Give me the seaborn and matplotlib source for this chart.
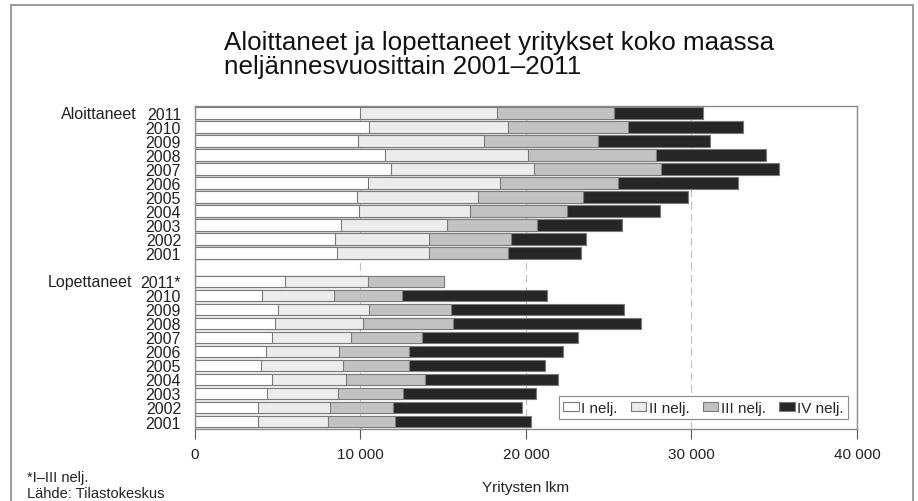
import seaborn as sns
import matplotlib.pyplot as plt
from matplotlib.patches import Patch, Rectangle
from matplotlib.ticker import FuncFormatter
import pandas as pd

# Quarterly counts, rows listed top to bottom (2011 -> 2001)
years_start = ["2011", "2010", "2009", "2008", "2007", "2006",
               "2005", "2004", "2003", "2002", "2001"]
start_q1 = [10000, 10540, 9880, 11500, 11850, 10460, 9760, 9920, 8840, 8450, 8600]
start_q2 = [8270, 8390, 7570, 8640, 8610, 7970, 7370, 6710, 6360, 5710, 5560]
start_q3 = [7070, 7210, 6910, 7690, 7670, 7130, 6340, 5860, 5440, 4950, 4730]
start_q4 = [5340, 6950, 6780, 6690, 7150, 7270, 6310, 5580, 5180, 4500, 4420]

years_end = ["2011*", "2010", "2009", "2008", "2007", "2006",
             "2005", "2004", "2003", "2002", "2001"]
end_q1 = [5440, 4040, 5040, 4860, 4680, 4320, 3980, 4680, 4360, 3820, 3830]
end_q2 = [5020, 4380, 5500, 5320, 4720, 4410, 4980, 4420, 4280, 4330, 4220]
end_q3 = [4580, 4070, 4920, 5400, 4320, 4180, 3970, 4770, 3950, 3840, 4060]
end_q4 = [0, 8810, 10440, 11370, 9450, 9340, 8200, 8060, 8010, 7790, 8210]

quarters = ["I nelj.", "II nelj.", "III nelj.", "IV nelj."]
colors = ["#ffffff", "#ececec", "#c2c2c2", "#262626"]
edge = "#7a7a7a"

# -----------------------------------------------------------------------------
# Build table
# -----------------------------------------------------------------------------
frames = []
for grp, yrs, qs in [("A", years_start, (start_q1, start_q2, start_q3, start_q4)),
                     ("L", years_end, (end_q1, end_q2, end_q3, end_q4))]:
    d = pd.DataFrame({"key": [grp + y for y in yrs], "year": yrs})
    for i, q in enumerate(qs):
        d[f"q{i+1}"] = q
    frames.append(d)
df = pd.concat(frames, ignore_index=True)
df["c1"] = df["q1"]
df["c2"] = df["c1"] + df["q2"]
df["c3"] = df["c2"] + df["q3"]
df["c4"] = df["c3"] + df["q4"]

order = ["A" + y for y in years_start] + ["gap"] + ["L" + y for y in years_end]
ylabels = years_start + [""] + years_end

# -----------------------------------------------------------------------------
# Plot
# -----------------------------------------------------------------------------
sns.set_style("white")
plt.rcParams["font.family"] = ["Liberation Sans", "DejaVu Sans"]

fig = plt.figure(figsize=(9.18, 5.02), dpi=100)
ax = fig.add_axes([0.2124, 0.1444, 0.7211, 0.6424])

for col, c in zip(["c4", "c3", "c2", "c1"], colors[::-1]):
    sns.barplot(data=df, x=col, y="key", order=order, orient="h",
                color=c, saturation=1, errorbar=None, width=0.82,
                edgecolor=edge, linewidth=0.8, ax=ax)

ax.set_xlim(0, 40000)
ax.set_ylim(22.5, -0.5)
ax.set_xticks([0, 10000, 20000, 30000, 40000])
ax.xaxis.set_major_formatter(FuncFormatter(lambda v, p: f"{int(v):,}".replace(",", " ")))
ax.set_yticks(range(len(order)))
ax.set_yticklabels(ylabels)
ax.tick_params(axis="y", length=0, pad=10, labelsize=11.5, labelcolor="#222222")
ax.tick_params(axis="x", direction="out", length=7, width=0.8, color="#555555",
               pad=6, labelsize=11, labelcolor="#222222", bottom=True)

ax.set_ylabel("")
ax.set_xlabel("Yritysten lkm", fontsize=11, color="#222222")
ax.xaxis.set_label_coords(0.5, -0.16)

ax.grid(axis="x", linestyle=(0, (7, 4)), color="#c0c0c0", linewidth=0.8)
ax.set_axisbelow(True)
for s in ax.spines.values():
    s.set_visible(True)
    s.set_color("#8a8a8a")
    s.set_linewidth(1.0)

# group names left of the year labels
tr = ax.get_yaxis_transform()
ax.text(-0.0876, 0, "Aloittaneet", transform=tr, ha="right", va="center",
        fontsize=11.5, color="#222222")
ax.text(-0.095, 12, "Lopettaneet", transform=tr, ha="right", va="center",
        fontsize=11.5, color="#222222")

handles = [Patch(facecolor=c, edgecolor=edge, linewidth=0.8) for c in colors]
leg = ax.legend(handles, quarters, loc="center", bbox_to_anchor=(0.768, 0.064),
                ncol=4, fontsize=11, frameon=True, fancybox=False,
                framealpha=1, edgecolor="#8a8a8a", handlelength=1.0,
                handleheight=0.6, handletextpad=0.15, columnspacing=0.9,
                borderpad=0.3)
leg.get_frame().set_linewidth(0.8)

# title and notes
fig.text(0.244, 1 - 50 / 502, "Aloittaneet ja lopettaneet yritykset koko maassa",
         fontsize=18.7, va="baseline", ha="left", color="#111111")
fig.text(0.244, 1 - 74 / 502, "neljännesvuosittain 2001–2011",
         fontsize=18.7, va="baseline", ha="left", color="#111111")
fig.text(0.0294, 1 - 478 / 502, "*I–III nelj.", fontsize=10.5, va="center", color="#222222")
fig.text(0.0294, 1 - 494 / 502, "Lähde: Tilastokeskus", fontsize=10.5, va="center", color="#222222")

fig.patches.append(Rectangle((11 / 918, -0.02), 0.983, 1.02 - 6 / 502,
                             transform=fig.transFigure, fill=False,
                             edgecolor="#8a8a8a", linewidth=1.2))

fig.savefig("out.png", dpi=100)
